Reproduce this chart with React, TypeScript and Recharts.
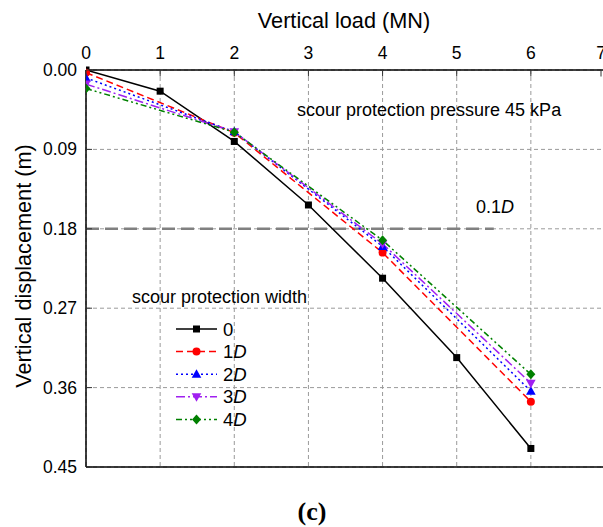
import React from 'react';
import { LineChart, Line, XAxis, YAxis, CartesianGrid, ReferenceLine, Legend } from 'recharts';

// vertical load (MN) and displacement (m)
const loads0 = [0, 1, 2, 3, 4, 5, 6];
const disp0 = [0, 0.024, 0.081, 0.153, 0.236, 0.326, 0.429];
const loadsD = [0, 2, 4, 6];
const disp1D = [0.003, 0.071, 0.207, 0.376];
const disp2D = [0.009, 0.07, 0.2, 0.364];
const disp3D = [0.016, 0.07, 0.197, 0.355];
const disp4D = [0.021, 0.0705, 0.193, 0.345];

const xTicks = [0, 1, 2, 3, 4, 5, 6, 7];
const yTicks = [0, 0.09, 0.18, 0.27, 0.36, 0.45];
const limitDisp = 0.18; // 0.1D
const limitEnd = 5.5;

const toPoints = (xs: number[], ys: number[]) => xs.map((x, i) => ({ x, y: ys[i] }));

type Shape = 'square' | 'circle' | 'triangle' | 'down' | 'diamond';

const series = [
  { key: 's0', num: '0', italic: '', color: '#000000', dash: undefined, shape: 'square' as Shape, data: toPoints(loads0, disp0) },
  { key: 's1', num: '1', italic: 'D', color: '#ff0000', dash: '7 4', shape: 'circle' as Shape, data: toPoints(loadsD, disp1D) },
  { key: 's2', num: '2', italic: 'D', color: '#0000ff', dash: '2 3', shape: 'triangle' as Shape, data: toPoints(loadsD, disp2D) },
  { key: 's3', num: '3', italic: 'D', color: '#a020f0', dash: '9 3 2 3', shape: 'down' as Shape, data: toPoints(loadsD, disp3D) },
  { key: 's4', num: '4', italic: 'D', color: '#008000', dash: '6 3 2 3 2 3', shape: 'diamond' as Shape, data: toPoints(loadsD, disp4D) },
];

const font = '"Liberation Sans", Arial, sans-serif';

const Marker = ({ shape, cx, cy, color }: { shape: Shape; cx: number; cy: number; color: string }) => {
  if (shape === 'square') return <rect x={cx - 3.5} y={cy - 3.5} width={7} height={7} fill={color} />;
  if (shape === 'circle') return <circle cx={cx} cy={cy} r={4} fill={color} />;
  if (shape === 'triangle')
    return <polygon points={`${cx},${cy - 5} ${cx + 4.8},${cy + 3.5} ${cx - 4.8},${cy + 3.5}`} fill={color} />;
  if (shape === 'down')
    return <polygon points={`${cx},${cy + 5} ${cx + 4.8},${cy - 3.5} ${cx - 4.8},${cy - 3.5}`} fill={color} />;
  return <polygon points={`${cx},${cy - 5} ${cx + 4.5},${cy} ${cx},${cy + 5} ${cx - 4.5},${cy}`} fill={color} />;
};

const XTick = (props: any) => {
  const { x, y, payload } = props;
  return (
    <g>
      <line x1={x} x2={x} y1={y + 11.5} y2={y + 18} stroke="#333" strokeWidth={1} />
      <text x={x} y={y} textAnchor="middle" fontSize={17.5} fontFamily={font} fill="#000">
        {payload.value}
      </text>
    </g>
  );
};

const YTick = (props: any) => {
  const { x, y, payload } = props;
  return (
    <g>
      <line x1={x + 9} x2={x + 15} y1={y} y2={y} stroke="#333" strokeWidth={1} />
      <text x={x} y={y} dy={6} textAnchor="end" fontSize={17.5} fontFamily={font} fill="#000">
        {payload.value.toFixed(2)}
      </text>
    </g>
  );
};

const LegendBox = () => (
  <svg width={110} height={115} style={{ display: 'block' }}>
    {series.map((s, i) => {
      const cy = 11 + i * 22.6;
      return (
        <g key={s.key}>
          <line x1={6} x2={47} y1={cy} y2={cy} stroke={s.color} strokeWidth={1.5} strokeDasharray={s.dash} />
          <Marker shape={s.shape} cx={26.5} cy={cy} color={s.color} />
          <text x={53} y={cy} dy={6.5} fontSize={18.5} fontFamily={font} fill="#000">
            {s.num}
            {s.italic && <tspan fontStyle="italic">{s.italic}</tspan>}
          </text>
        </g>
      );
    })}
  </svg>
);

const textStyle: React.CSSProperties = {
  position: 'absolute',
  fontFamily: font,
  fontSize: 18,
  lineHeight: 1,
  whiteSpace: 'nowrap',
  color: '#000',
};

export default function App() {
  return (
    <div style={{ position: 'absolute', left: 0, top: 0, width: 603, height: 527, background: '#fff', overflow: 'hidden' }}>
      <LineChart width={605} height={527} margin={{ top: 0, right: 0, left: 0, bottom: 60 }}>
        <CartesianGrid stroke="#9a9a9a" strokeDasharray="4 3" />
        <XAxis
          type="number"
          dataKey="x"
          orientation="top"
          domain={[0, 7]}
          ticks={xTicks}
          height={70}
          tickSize={0}
          tickMargin={11.5}
          tick={<XTick />}
          axisLine={{ stroke: '#000', strokeWidth: 1.5 }}
          allowDataOverflow
        />
        <YAxis
          type="number"
          dataKey="y"
          reversed
          domain={[0, 0.45]}
          ticks={yTicks}
          width={86}
          tickSize={0}
          tickMargin={9}
          tick={<YTick />}
          axisLine={{ stroke: '#000', strokeWidth: 1.5 }}
        />
        <ReferenceLine y={0.45} stroke="#000" strokeWidth={1.5} />
        <ReferenceLine
          segment={[{ x: 0, y: limitDisp }, { x: limitEnd, y: limitDisp }]}
          stroke="#808080"
          strokeWidth={2.5}
          strokeDasharray="13 6"
        />
        <Legend
          layout="vertical"
          align="center"
          verticalAlign="middle"
          content={<LegendBox />}
          wrapperStyle={{ left: 170, top: 318, width: 110, height: 115 }}
        />
        {series.map((s) => (
          <Line
            key={s.key}
            data={s.data}
            dataKey="y"
            type="linear"
            stroke={s.color}
            strokeWidth={1.5}
            strokeDasharray={s.dash}
            isAnimationActive={false}
            dot={(p: any) => <Marker key={`${s.key}-${p.index}`} shape={s.shape} cx={p.cx} cy={p.cy} color={s.color} />}
            activeDot={false}
          />
        ))}
      </LineChart>

      <div style={{ ...textStyle, fontSize: 21.7, left: 344, top: 10, transform: 'translateX(-50%)' }}>Vertical load (MN)</div>
      <div
        style={{
          ...textStyle,
          fontSize: 21.7,
          left: 23.5,
          top: 265.5,
          transform: 'translate(-50%, -50%) rotate(-90deg)',
        }}
      >
        Vertical displacement (m)
      </div>
      <div style={{ ...textStyle, left: 297, top: 101 }}>scour protection pressure 45 kPa</div>
      <div style={{ ...textStyle, left: 132, top: 288 }}>scour protection width</div>
      <div style={{ ...textStyle, left: 476, top: 198 }}>
        0.1<i>D</i>
      </div>
      <div
        style={{
          ...textStyle,
          fontFamily: '"Liberation Serif", serif',
          fontWeight: 'bold',
          fontSize: 26,
          left: 312,
          top: 499,
          transform: 'translateX(-50%)',
        }}
      >
        (c)
      </div>
    </div>
  );
}
